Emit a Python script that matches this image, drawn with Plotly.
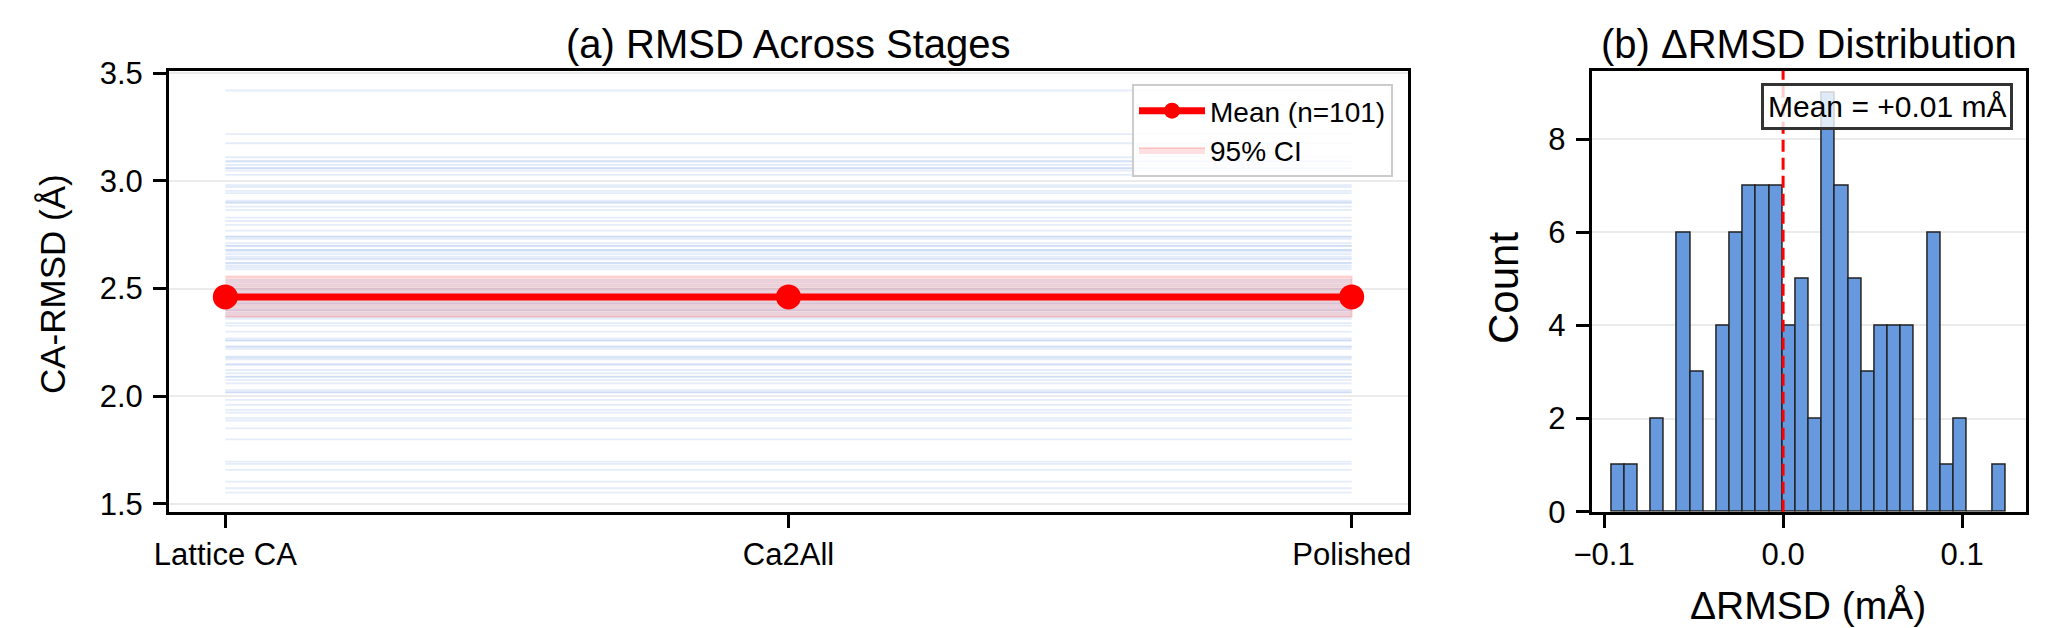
import plotly.graph_objects as go

# ---------------- data ----------------
stages = ["Lattice CA", "Ca2All", "Polished"]

# per-structure CA-RMSD (identical across the three stages)
sample_rmsd = [
    3.42, 3.217, 3.175, 3.11, 3.093, 3.074, 3.059, 3.048, 3.028, 2.971,
    2.954, 2.943, 2.909, 2.899, 2.881, 2.865, 2.814, 2.796, 2.769, 2.742,
    2.731, 2.711, 2.698, 2.680, 2.672, 2.649, 2.636, 2.618, 2.608, 2.590,
    3.09, 3.06, 2.74, 2.70, 2.68, 2.66, 2.64, 2.62, 2.60, 2.98,
    2.90, 2.83,
    2.37, 2.38, 2.39, 2.40, 2.41, 2.42, 2.43, 2.43, 2.44, 2.45,
    2.45, 2.46, 2.47, 2.48, 2.49, 2.50, 2.51, 2.52, 2.53, 2.54,
    2.40, 2.36,
    2.328, 2.269, 2.259, 2.231, 2.220, 2.184, 2.172, 2.146, 2.122, 2.107,
    2.091, 2.076, 2.029, 2.017, 1.983, 1.960, 1.937, 1.924, 1.898, 1.887,
    1.851, 1.800, 1.697, 1.686, 1.658, 1.604, 1.573, 1.553,
    2.15, 2.09, 2.18, 2.23, 2.30, 2.02, 2.06, 2.26, 2.34,
]

mean_rmsd = [2.4615, 2.4615, 2.4615]
ci_low = [2.369, 2.369, 2.369]
ci_high = [2.556, 2.556, 2.556]

# histogram of delta RMSD
hist_edges = [
    -0.0959, -0.0886, -0.0812, -0.0739, -0.0665, -0.0592, -0.0518, -0.0445,
    -0.0371, -0.0298, -0.0224, -0.0151, -0.0077, -0.0004, 0.0070, 0.0143,
    0.0217, 0.0290, 0.0364, 0.0437, 0.0511, 0.0584, 0.0658, 0.0731,
    0.0805, 0.0878, 0.0951, 0.1025, 0.1098, 0.1172, 0.1245,
]
hist_counts = [1, 1, 0, 2, 0, 6, 3, 0, 4, 6, 7, 7, 7, 4, 5, 2, 9, 7, 5, 3,
               4, 4, 4, 0, 6, 1, 2, 0, 0, 1]
delta_mean = 0.0
mean_label = "Mean = +0.01 mÅ"

# ---------------- figure ----------------
FONT = "Arial, 'Liberation Sans', sans-serif"
W, H = 2055, 628
fig = go.Figure()

# individual structure lines
for v in sample_rmsd:
    fig.add_trace(go.Scatter(
        x=stages, y=[v, v, v], mode="lines",
        line=dict(color="rgba(70,130,220,0.14)", width=1.8),
        showlegend=False, hoverinfo="skip", xaxis="x", yaxis="y"))

# CI band
fig.add_trace(go.Scatter(
    x=stages + stages[::-1], y=ci_high + ci_low[::-1],
    fill="toself", fillcolor="rgba(255,0,0,0.12)",
    line=dict(color="rgba(255,0,0,0.14)", width=2),
    mode="lines", name="95% CI", legendrank=2,
    xaxis="x", yaxis="y"))

# mean line
fig.add_trace(go.Scatter(
    x=stages, y=mean_rmsd, mode="lines+markers",
    line=dict(color="#ff0000", width=7),
    marker=dict(color="#ff0000", size=25),
    name="Mean (n=101)", legendrank=1,
    xaxis="x", yaxis="y"))

# histogram bars
centers = [(hist_edges[i] + hist_edges[i + 1]) / 2 for i in range(len(hist_counts))]
widths = [hist_edges[i + 1] - hist_edges[i] for i in range(len(hist_counts))]
fig.add_trace(go.Bar(
    x=centers, y=hist_counts, width=widths,
    marker=dict(color="#6699dd", line=dict(color="#222222", width=1.5)),
    showlegend=False, xaxis="x2", yaxis="y2"))

# mean dashed line in histogram
fig.add_shape(type="line", xref="x2", yref="y2 domain",
              x0=delta_mean, x1=delta_mean, y0=0, y1=1,
              line=dict(color="#ff0000", width=3, dash="12px,6px"),
              layer="above")

ydom = [1 - 511.7 / H, 1 - 70.7 / H]
axis_common = dict(
    showline=True, linecolor="black", linewidth=3, mirror=True,
    ticks="outside", ticklen=13, tickwidth=2.5, tickcolor="black",
    tickfont=dict(family=FONT, size=31, color="black"),
    zeroline=False, automargin=False,
)

fig.update_layout(
    template="none",
    width=W, height=H,
    margin=dict(l=0, r=0, t=0, b=0, pad=0),
    paper_bgcolor="white", plot_bgcolor="white",
    font=dict(family=FONT, color="black"),
    bargap=0,
    xaxis=dict(domain=[169 / W, 1408 / W], type="category",
               range=[-0.1, 2.1], showgrid=False, anchor="y",
               ticklabelstandoff=0, **axis_common),
    yaxis=dict(domain=ydom, range=[1.464, 3.512], anchor="x",
               tickvals=[1.5, 2.0, 2.5, 3.0, 3.5], tickformat=".1f",
               showgrid=True, gridcolor="#ebebeb", gridwidth=2,
               ticklabelstandoff=4, **axis_common),
    xaxis2=dict(domain=[1591.7 / W, 2025.7 / W], range=[-0.1069, 0.1355],
                tickvals=[-0.1, 0.0, 0.1], tickformat=".1f",
                showgrid=False, anchor="y2", ticklabelstandoff=0,
                **axis_common),
    yaxis2=dict(domain=ydom, range=[0, 9.47], anchor="x2",
                tickvals=[0, 2, 4, 6, 8],
                showgrid=True, gridcolor="#ebebeb", gridwidth=2,
                ticklabelstandoff=4, **axis_common),
    legend=dict(x=1393 / W, xanchor="right", y=1 - 84 / H, yanchor="top",
                bgcolor="rgba(255,255,255,0.8)", bordercolor="#cccccc",
                borderwidth=2, font=dict(family=FONT, size=28, color="black"),
                itemwidth=66, tracegroupgap=4),
)

ann = [
    dict(text="(a) RMSD Across Stages", x=788.5 / W, y=1 - 44 / H,
         xanchor="center", yanchor="middle", font=dict(size=40)),
    dict(text="(b) ΔRMSD Distribution", x=1808.7 / W, y=1 - 44 / H,
         xanchor="center", yanchor="middle", font=dict(size=40)),
    dict(text="CA-RMSD (Å)", x=52 / W, y=1 - 284 / H, textangle=-90,
         xanchor="center", yanchor="middle", font=dict(size=35)),
    dict(text="Count", x=1503 / W, y=1 - 288 / H, textangle=-90,
         xanchor="center", yanchor="middle", font=dict(size=42)),
    dict(text="ΔRMSD (mÅ)", x=1808 / W, y=1 - 605 / H,
         xanchor="center", yanchor="middle", font=dict(size=39)),
    dict(text=mean_label, x=2013 / W, y=1 - 82.7 / H,
         xanchor="right", yanchor="top", font=dict(size=30),
         bgcolor="rgba(255,255,255,0.8)", bordercolor="#333333",
         borderwidth=3, borderpad=4),
]
for a in ann:
    a.setdefault("xref", "paper")
    a.setdefault("yref", "paper")
    a["showarrow"] = False
    a["font"] = dict(family=FONT, color="black", size=a["font"]["size"])
    fig.add_annotation(**a)

fig.write_html("out.html")
